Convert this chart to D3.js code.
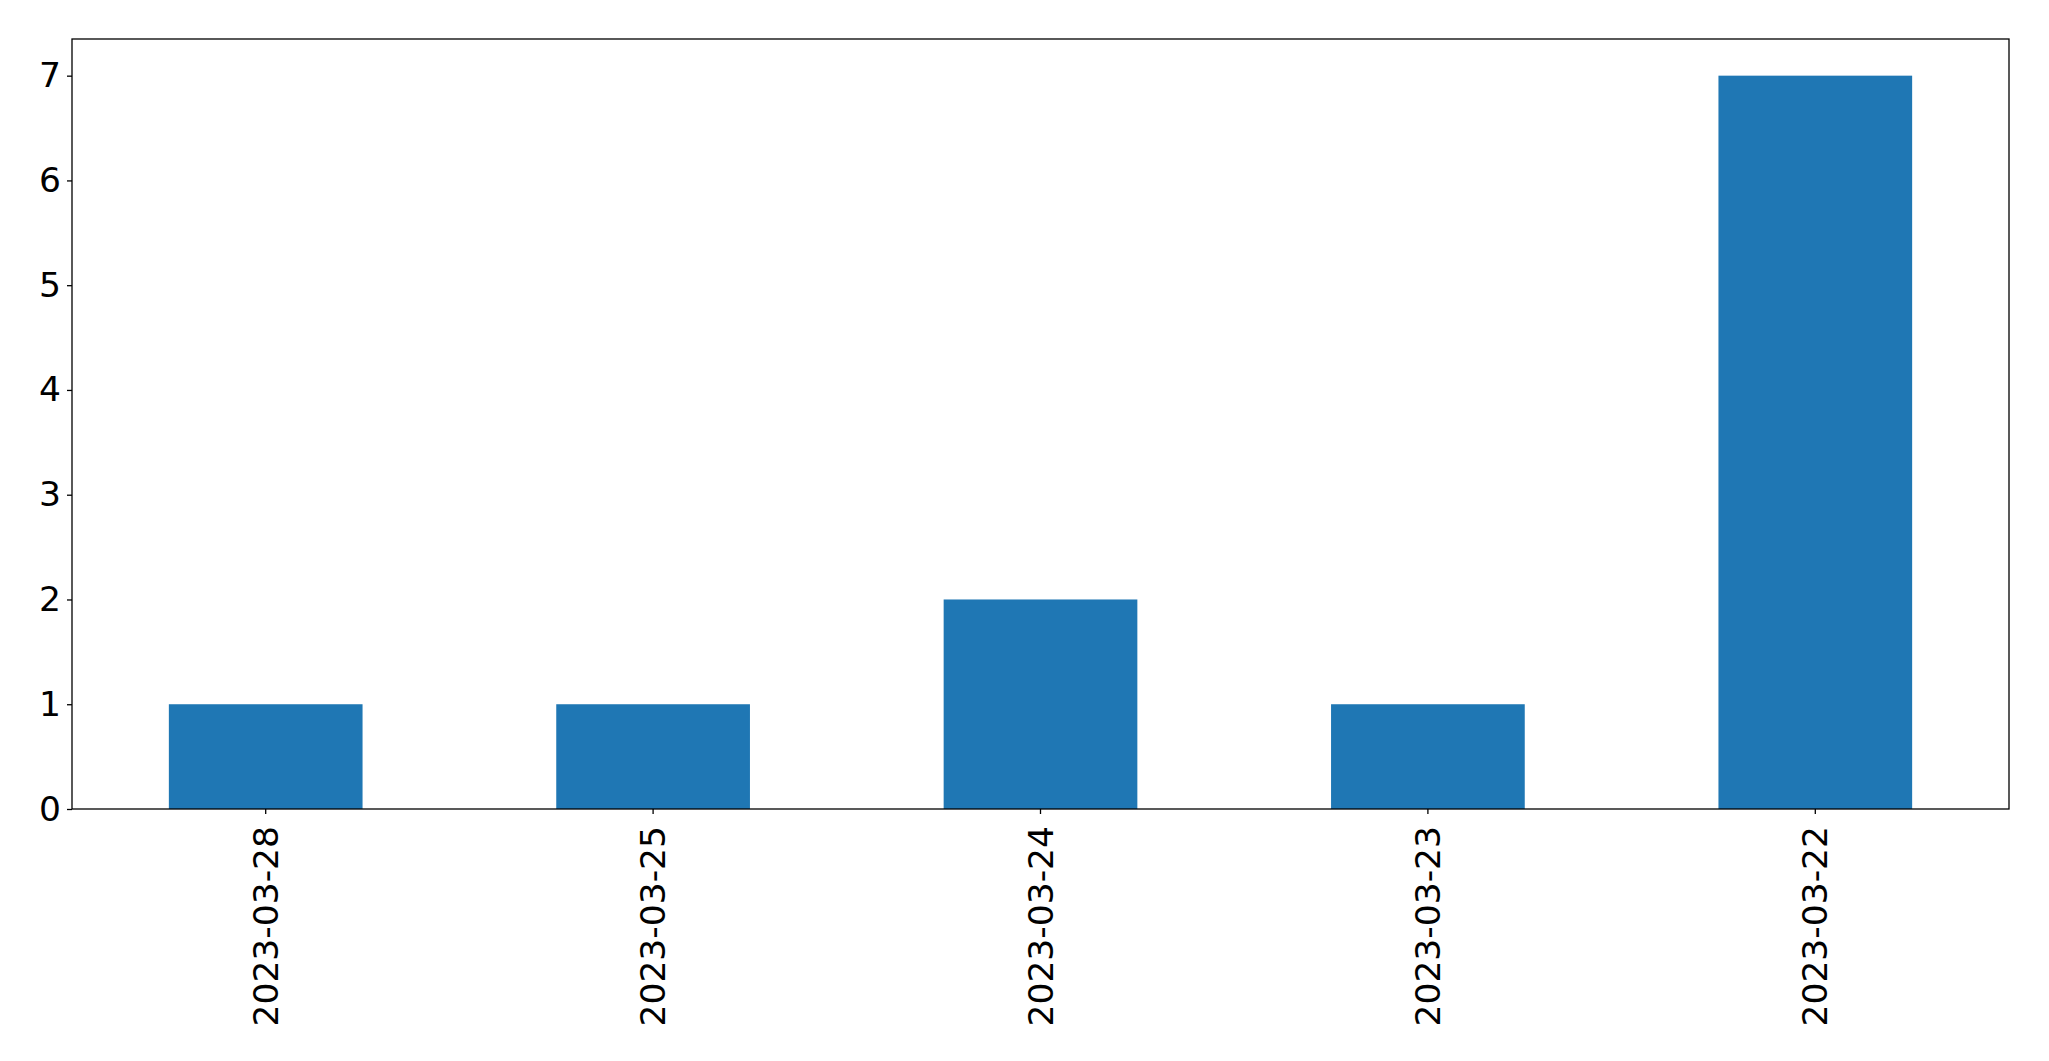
<!DOCTYPE html>
<html>
<head>
<meta charset="utf-8">
<script src="https://cdn.jsdelivr.net/npm/d3@7"></script>
<style>
  html, body { margin: 0; padding: 0; background: #fff; }
  svg { display: block; }
  .tick text { font-family: "DejaVu Sans", sans-serif; }
</style>
</head>
<body>
<script>
const categories = ["2023-03-28", "2023-03-25", "2023-03-24", "2023-03-23", "2023-03-22"];
const values = [1, 1, 2, 1, 7];
const yTicks = [0, 1, 2, 3, 4, 5, 6, 7];

const W = 2049, H = 1061;
const margin = { left: 72, right: 40, top: 39, bottom: 252 };
const fontSize = 34.5;

const svg = d3.select("body").append("svg").attr("width", W).attr("height", H);

const x = d3.scaleBand()
  .domain(categories)
  .range([margin.left, W - margin.right])
  .paddingInner(0.5)
  .paddingOuter(0.25);

const yMax = d3.max(values) * 1.05;
const y = d3.scaleLinear().domain([0, yMax]).range([H - margin.bottom, margin.top]);

svg.append("g")
  .selectAll("rect")
  .data(values)
  .join("rect")
  .attr("x", (d, i) => x(categories[i]))
  .attr("y", d => y(d))
  .attr("width", x.bandwidth())
  .attr("height", d => y(0) - y(d))
  .attr("fill", "#1f77b4");

// frame
svg.append("rect")
  .attr("x", margin.left)
  .attr("y", margin.top)
  .attr("width", W - margin.right - margin.left)
  .attr("height", H - margin.bottom - margin.top)
  .attr("fill", "none")
  .attr("stroke", "#000")
  .attr("stroke-width", 1.3);

const yAxis = svg.append("g")
  .attr("transform", `translate(${margin.left},0)`)
  .call(d3.axisLeft(y).tickValues(yTicks).tickFormat(d3.format("d")).tickSize(5).tickPadding(6));
yAxis.select(".domain").remove();
yAxis.selectAll(".tick line").attr("stroke", "#000").attr("stroke-width", 1.3);
yAxis.selectAll(".tick text").attr("font-size", fontSize).attr("fill", "#000");

const xAxis = svg.append("g")
  .attr("transform", `translate(0,${H - margin.bottom})`)
  .call(d3.axisBottom(x).tickSize(5).tickPadding(0));
xAxis.select(".domain").remove();
xAxis.selectAll(".tick line").attr("stroke", "#000").attr("stroke-width", 1.3);
xAxis.selectAll(".tick text")
  .attr("font-size", fontSize)
  .attr("fill", "#000")
  .attr("transform", "rotate(-90)")
  .attr("text-anchor", "end")
  .attr("x", -17)
  .attr("y", 0)
  .attr("dy", "0.35em");
</script>
</body>
</html>
